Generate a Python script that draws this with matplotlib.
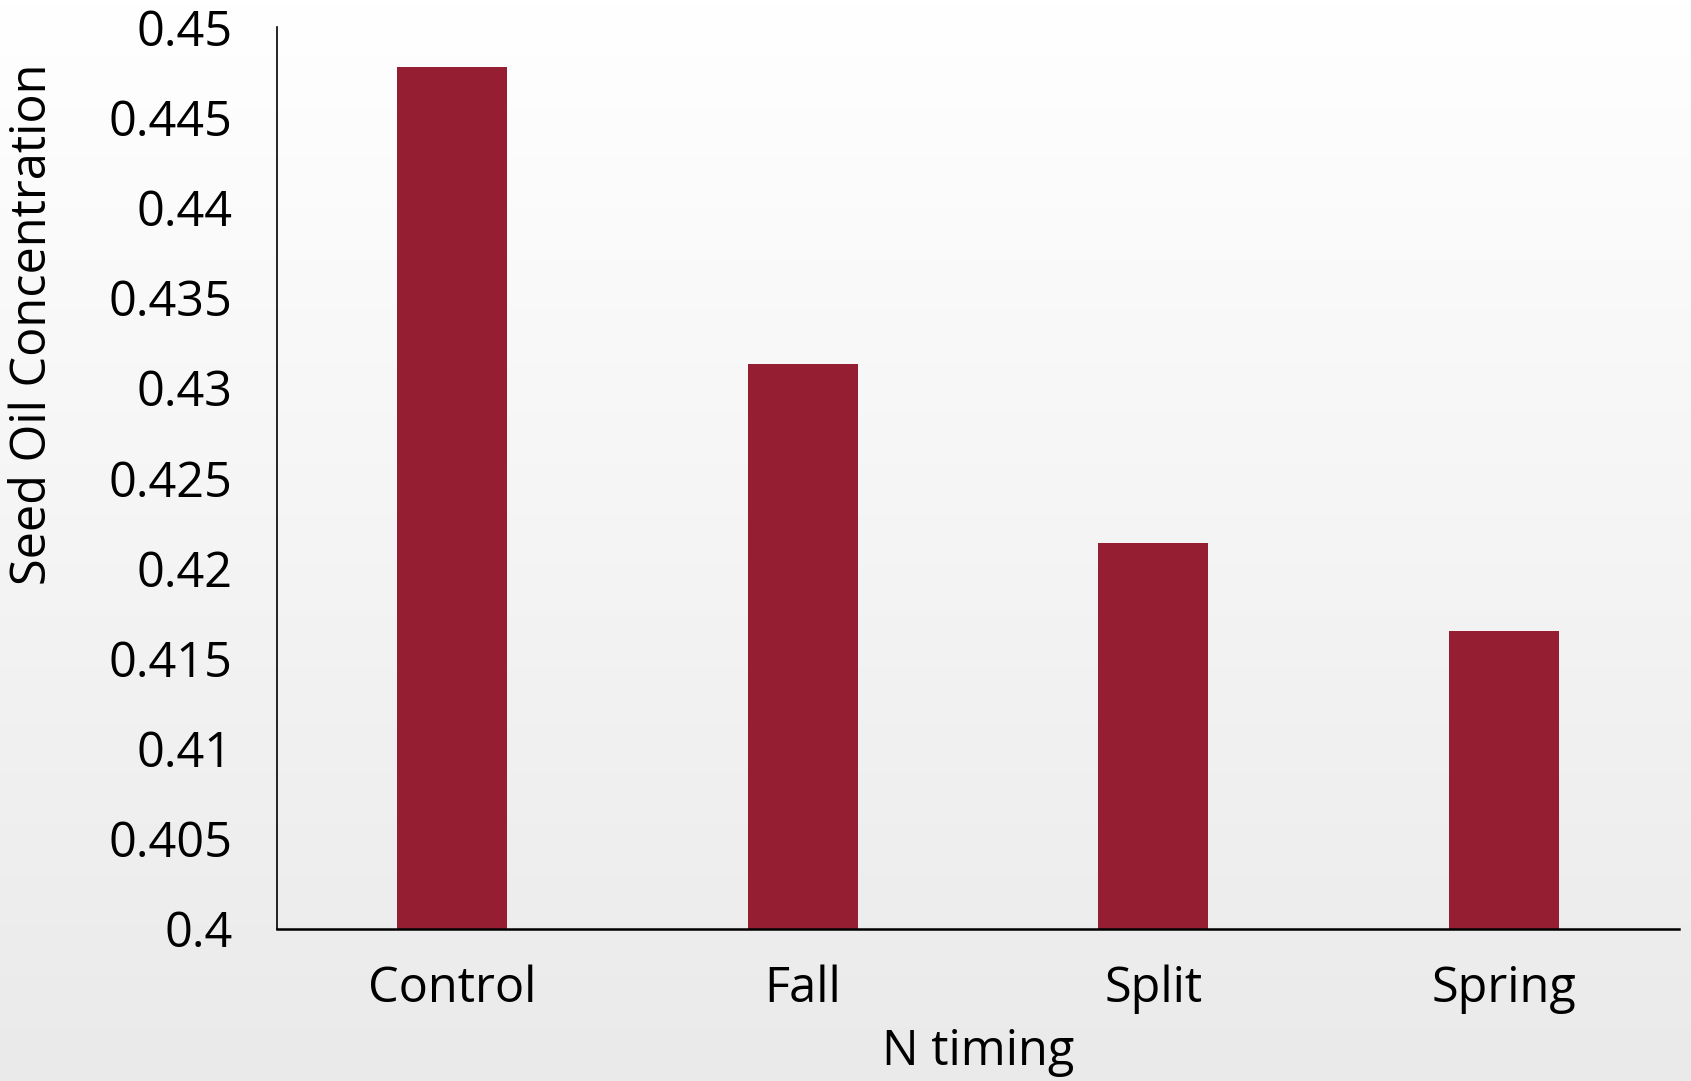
import numpy as np
import matplotlib
matplotlib.use("Agg")
import matplotlib.pyplot as plt
from matplotlib.colors import LinearSegmentedColormap

# Seed oil concentration by nitrogen application timing
categories = ["Control", "Fall", "Split", "Spring"]
oil_concentration = [0.4478, 0.4313, 0.4214, 0.4165]
y_ticks = [0.4, 0.405, 0.41, 0.415, 0.42, 0.425, 0.43, 0.435, 0.44, 0.445, 0.45]
y_tick_labels = ["0.4", "0.405", "0.41", "0.415", "0.42", "0.425", "0.43",
                 "0.435", "0.44", "0.445", "0.45"]

plt.rcParams["font.family"] = ["Open Sans", "DejaVu Sans"]
FS = 35

fig = plt.figure(figsize=(16.91, 10.81), dpi=100)

# Soft vertical gradient behind the whole figure
bg = fig.add_axes([0, 0, 1, 1], zorder=-10)
grad = np.linspace(0, 1, 256).reshape(-1, 1)
cmap = LinearSegmentedColormap.from_list("bg", ["#ffffff", "#eaeaea"])
bg.imshow(grad, aspect="auto", cmap=cmap, extent=[0, 1, 0, 1], origin="upper")
bg.set_axis_off()

ax = fig.add_axes([0.1638, 0.141, 0.8291, 0.834])
ax.patch.set_alpha(0)

x = np.arange(len(categories))
ax.bar(x, oil_concentration, width=0.315, color="#961e32", zorder=2)

ax.set_xlim(-0.5, len(categories) - 0.5)
ax.set_ylim(0.4, 0.45)
ax.set_xticks(x)
ax.set_xticklabels(categories, fontsize=FS)
ax.set_yticks(y_ticks)
ax.set_yticklabels(y_tick_labels, fontsize=FS)
ax.tick_params(axis="both", length=0)
ax.tick_params(axis="y", pad=32)
ax.tick_params(axis="x", pad=26)

for side in ("top", "right"):
    ax.spines[side].set_visible(False)
ax.spines["left"].set_linewidth(1.2)
ax.spines["bottom"].set_linewidth(1.8)
ax.spines["left"].set_color("black")
ax.spines["bottom"].set_color("black")

ax.set_xlabel("N timing", fontsize=FS)
ax.set_ylabel("Seed Oil Concentration", fontsize=FS)
ax.yaxis.set_label_coords(-0.156, 0.67)
ax.xaxis.set_label_coords(0.5, -0.11)

fig.savefig("out.png", dpi=100)
